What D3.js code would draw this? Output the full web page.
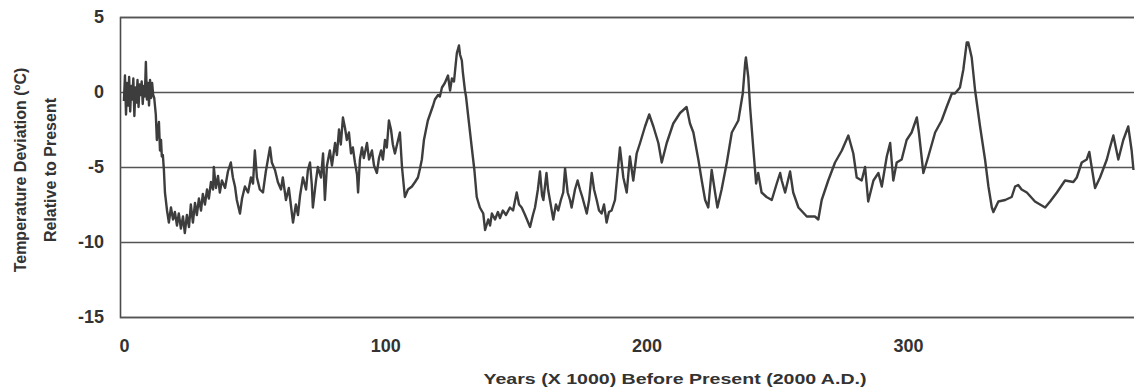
<!DOCTYPE html>
<html>
<head>
<meta charset="utf-8">
<script src="https://cdnjs.cloudflare.com/ajax/libs/d3/7.8.5/d3.min.js"></script>
<style>
  html, body { margin: 0; padding: 0; background: #fff; }
  #chart { width: 1141px; height: 387px; }
</style>
</head>
<body>
<div id="chart"></div>
<script>
// ticks
var yTicks = [5, 0, -5, -10, -15];
var xTicks = [0, 100, 200, 300];

// years (x 1000) before present
var years = [
  0, 0.4, 0.8, 1.2, 1.6, 2.0, 2.4, 2.8, 3.2, 3.6, 4.0, 4.4, 4.8, 5.2, 5.6, 6.0, 6.4, 6.8, 7.2, 7.6,
  8.0, 8.4, 8.8, 9.2, 9.6, 10.0, 10.4, 10.8, 11.2, 11.6, 12.2, 12.6, 13.0, 13.4, 13.8, 14.2, 14.5, 14.9, 15.3, 15.7,
  16.5, 17.2, 18.0, 18.8, 19.5, 20.3, 21.0, 21.8, 22.6, 23.3, 24.1, 24.9, 25.6, 26.4, 27.2, 27.9, 28.7, 29.5, 30.2, 31.0,
  31.8, 32.5, 33.3, 34.1, 34.4, 35.2, 36.0, 36.7, 37.5, 38.7, 39.8, 40.9, 41.7, 42.5, 43.2, 44.4, 45.2, 46.3, 47.5, 48.6,
  49.4, 50.1, 50.9, 52.0, 53.2, 54.3, 55.1, 55.9, 56.6, 57.8, 58.9, 60.1, 60.8, 62.0, 63.1, 64.7, 65.8, 66.6, 67.4, 68.5,
  69.7, 70.4, 71.2, 71.9, 72.3, 73.5, 74.2, 75.4, 76.2, 76.9, 77.7, 78.8, 79.6, 80.8, 81.5, 82.3, 83.0, 83.8, 84.6, 85.3,
  86.1, 86.9, 87.6, 88.4, 89.2, 89.6, 90.3, 91.1, 91.8, 93.0, 93.8, 94.9, 95.7, 96.8, 97.6, 98.4, 99.1, 99.9, 100.6, 101.4,
  102.2, 102.9, 103.7, 104.5, 105.6, 106.4, 107.5, 108.7, 110.2, 111.4, 112.5, 113.3, 114.0, 114.8, 115.6, 116.3, 117.5, 118.3, 119.0, 120.2,
  120.9, 121.7, 122.8, 124.0, 124.8, 125.5, 126.3, 127.1, 127.4, 128.2, 128.6, 129.3, 129.7, 130.5, 130.9, 131.8, 133.1, 134.1, 135.0, 136.2,
  137.5, 138.2, 139.4, 140.1, 140.8, 142.0, 143.1, 143.9, 145.0, 146.2, 147.7, 148.9, 150.3, 151.2, 152.2, 153.5, 155.4, 156.5, 157.3, 158.4,
  159.2, 160.0, 160.5, 161.7, 162.3, 163.0, 164.3, 165.3, 166.2, 167.2, 168.1, 168.8, 169.8, 170.7, 171.3, 172.6, 173.6, 174.5, 175.4, 177.1,
  178.0, 179.0, 179.9, 180.9, 181.8, 182.8, 183.7, 184.7, 185.6, 186.6, 187.9, 189.8, 191.1, 192.4, 193.6, 194.9, 196.2, 197.5, 199.4, 201.0,
  202.6, 204.5, 205.8, 207.7, 210.2, 212.8, 215.3, 216.6, 217.9, 219.8, 221.1, 222.4, 223.6, 224.9, 226.2, 227.1, 228.7, 230.7, 232.6, 235.1,
  236.8, 237.7, 238.0, 238.9, 239.6, 240.8, 241.9, 242.7, 244.0, 245.9, 247.9, 249.8, 251.1, 251.7, 253.0, 254.9, 256.1, 258.1, 261.3, 264.4,
  265.7, 267.0, 269.5, 272.1, 274.7, 277.2, 279.1, 280.4, 282.3, 283.6, 284.8, 286.8, 288.7, 290.0, 291.9, 293.2, 294.4, 295.7, 297.6, 299.5,
  301.4, 303.4, 304.2, 305.9, 307.8, 310.4, 312.9, 314.8, 316.8, 318.0, 319.9, 321.2, 322.5, 323.1, 324.4, 325.7, 327.6, 329.5, 330.8, 332.1,
  332.7, 334.6, 337.2, 339.7, 341.0, 342.2, 343.5, 345.5, 348.6, 352.5, 354.4, 357.0, 360.1, 363.3, 364.6, 366.5, 368.4, 369.4, 370.3, 371.6,
  373.5, 376.1, 377.3, 378.6, 380.5, 382.4, 384.3, 385.6, 386.3
];

// temperature deviation (°C) relative to present
var temps = [
  -0.6, 1.1, -1.5, 0.6, -0.9, 1.0, -1.3, 0.4, -0.5, 0.9, -1.6, 0.3, -0.7, 0.8, -1.0, 0.5, -0.2, 0.7, -0.8, 0.4,
  -0.3, 2.0, -0.5, 0.6, -0.9, 0.8, -0.4, 0.6, -0.2, -0.4, -1.5, -3.2, -2.6, -2.0, -3.9, -3.2, -4.3, -4.2, -5.2, -6.7,
  -7.9, -8.7, -7.7, -8.5, -8.0, -8.9, -8.1, -9.1, -8.3, -9.4, -8.2, -9.0, -7.5, -8.7, -7.4, -8.2, -7.1, -7.9, -6.8, -7.5,
  -6.5, -7.1, -6.0, -6.5, -5.0, -6.4, -5.6, -6.7, -5.9, -6.4, -5.3, -4.7, -5.7, -6.3, -7.2, -8.1, -7.1, -6.3, -6.7, -5.7,
  -6.1, -3.9, -5.7, -6.5, -6.7, -5.3, -4.5, -3.7, -4.7, -5.2, -6.0, -6.5, -5.7, -7.2, -6.4, -8.7, -7.5, -8.2, -6.9, -5.7,
  -6.5, -5.2, -4.7, -6.2, -7.7, -5.9, -5.0, -5.7, -4.1, -7.2, -4.9, -3.9, -4.9, -3.4, -4.2, -2.5, -3.5, -1.7, -2.4, -3.2,
  -2.7, -4.1, -3.7, -4.7, -5.5, -6.7, -4.5, -3.7, -4.4, -3.4, -4.5, -3.9, -4.9, -5.4, -4.4, -3.9, -4.5, -3.2, -3.7, -1.9,
  -2.5, -3.5, -4.1, -3.5, -2.7, -5.0, -7.0, -6.5, -6.3, -6.0, -5.7, -5.1, -4.5, -3.2, -2.5, -1.9, -1.3, -0.9, -0.5, -0.2,
  -0.3, 0.3, 0.6, 1.1, 0.1, 0.9, 0.7, 2.1, 2.6, 3.1, 2.5, 2.1, 1.3, 0.1, -0.3, -1.7, -3.7, -5.2, -7.0, -7.7,
  -8.1, -9.2, -8.5, -8.9, -8.1, -8.5, -8.0, -8.4, -7.9, -8.2, -7.7, -7.9, -6.7, -7.5, -7.7, -8.2, -9.0, -8.2, -7.7, -6.5,
  -5.3, -6.9, -7.2, -5.4, -6.5, -7.2, -8.5, -7.5, -7.9, -7.2, -6.7, -5.1, -6.7, -7.2, -7.7, -6.5, -5.9, -6.5, -7.0, -8.1,
  -7.2, -5.4, -6.5, -7.2, -7.9, -8.1, -7.5, -8.7, -8.0, -7.9, -7.2, -3.7, -5.7, -6.7, -4.3, -5.9, -4.1, -3.4, -2.3, -1.5,
  -2.3, -3.4, -4.7, -3.4, -2.1, -1.4, -1.0, -2.1, -2.7, -4.5, -5.9, -7.2, -7.7, -5.2, -6.7, -7.7, -6.5, -4.7, -2.7, -1.9,
  -0.1, 1.9, 2.3, 1.0, -1.0, -3.7, -6.1, -5.4, -6.7, -7.0, -7.2, -6.1, -5.4, -5.9, -6.7, -5.3, -6.7, -7.7, -8.3, -8.3,
  -8.5, -7.2, -5.9, -4.7, -3.9, -2.9, -4.1, -5.7, -5.9, -5.0, -7.3, -5.9, -5.4, -6.3, -4.3, -3.4, -5.9, -4.7, -4.5, -3.2,
  -2.7, -1.7, -2.7, -5.4, -4.3, -2.7, -1.9, -1.0, -0.1, -0.1, 0.3, 1.5, 3.3, 3.3, 2.3, 0.1, -2.3, -4.5, -6.3, -7.7,
  -8.0, -7.3, -7.2, -7.0, -6.3, -6.2, -6.5, -6.7, -7.3, -7.7, -7.3, -6.7, -5.9, -6.0, -5.7, -4.7, -4.5, -4.0, -5.0, -6.4,
  -5.7, -4.5, -3.7, -2.9, -4.5, -3.2, -2.3, -3.9, -5.2
];

var W = 1141, H = 387;
var mLeft = 120, mRight = 1134, mTop = 17, mBottom = 317;

var svg = d3.select('#chart').append('svg')
  .attr('width', W)
  .attr('height', H)
  .style('font-family', '"Liberation Sans", Arial, sans-serif');

var x = d3.scaleLinear().domain([-1.5, 386.5]).range([mLeft, mRight]);
var y = d3.scaleLinear().domain([-15, 5]).range([mBottom, mTop]);

// plain hyphen for negatives, like the original
var fmt = function (d) { return String(d); };

// y axis with gridlines
var yAxis = svg.append('g')
  .attr('transform', 'translate(' + mLeft + ',0)')
  .call(d3.axisLeft(y).tickValues(yTicks).tickFormat(fmt)
    .tickSize(-(mRight - mLeft)).tickPadding(16));
yAxis.select('.domain').attr('stroke', '#4a4a4a').attr('stroke-width', 1.6);
yAxis.selectAll('.tick line').attr('stroke', '#555').attr('stroke-width', 1.5);
yAxis.selectAll('.tick text')
  .attr('fill', '#333')
  .style('font-size', '18px')
  .style('font-weight', 'bold');

// x axis labels only
var xAxis = svg.append('g')
  .attr('transform', 'translate(0,' + mBottom + ')')
  .call(d3.axisBottom(x).tickValues(xTicks).tickFormat(fmt).tickSize(0).tickPadding(22));
xAxis.select('.domain').remove();
xAxis.selectAll('.tick text')
  .attr('fill', '#333')
  .style('font-size', '18px')
  .style('font-weight', 'bold');

// series
var pts = years.map(function (d, i) { return [d, temps[i]]; });
var line = d3.line()
  .x(function (d) { return x(d[0]); })
  .y(function (d) { return y(d[1]); });

svg.append('path')
  .datum(pts)
  .attr('d', line)
  .attr('fill', 'none')
  .attr('stroke', '#3d3d3d')
  .attr('stroke-width', 2.4)
  .attr('stroke-linejoin', 'round');

// axis titles
svg.append('text')
  .attr('x', 675)
  .attr('y', 384)
  .attr('text-anchor', 'middle')
  .attr('textLength', 383)
  .attr('lengthAdjust', 'spacingAndGlyphs')
  .attr('fill', '#333')
  .style('font-size', '15px')
  .style('font-weight', 'bold')
  .text('Years (X 1000) Before Present (2000 A.D.)');

var yt = svg.append('g')
  .attr('transform', 'translate(0,170) rotate(-90)')
  .attr('text-anchor', 'middle')
  .attr('fill', '#333')
  .style('font-size', '16px')
  .style('font-weight', 'bold');
yt.append('text').attr('x', 0).attr('y', 26).text('Temperature Deviation (ºC)');
yt.append('text').attr('x', 0).attr('y', 56).text('Relative to Present');
</script>
</body>
</html>
